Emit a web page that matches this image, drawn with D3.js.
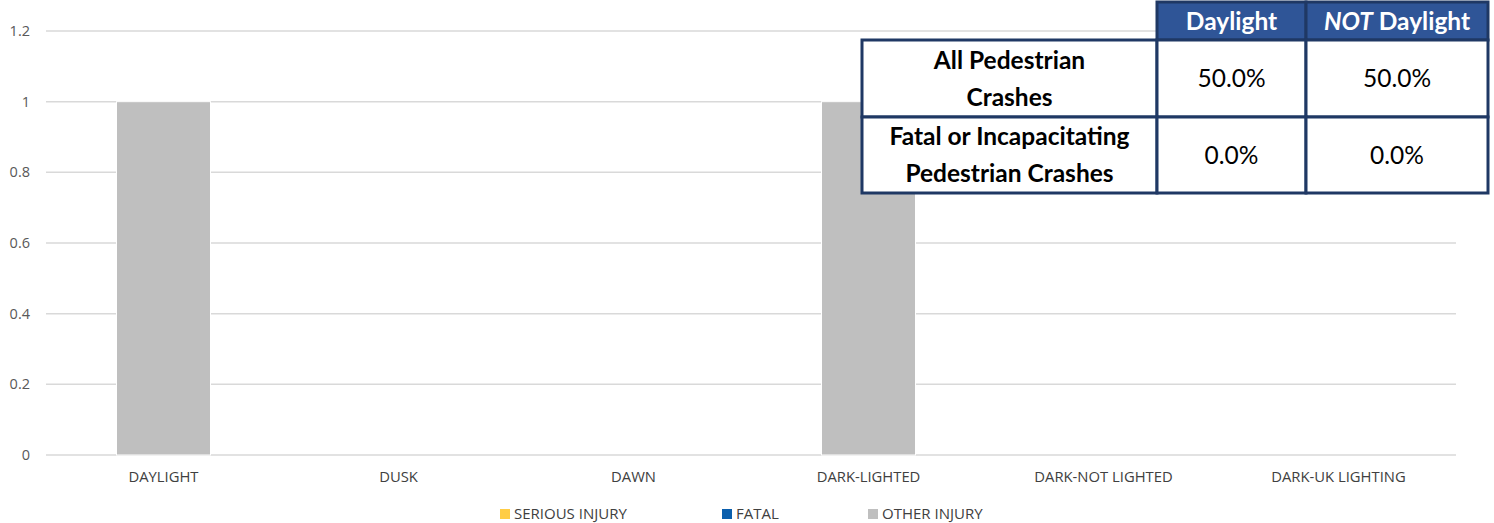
<!DOCTYPE html>
<html><head><meta charset="utf-8">
<script src="https://cdn.jsdelivr.net/npm/d3@7"></script>
<style>body{margin:0;background:#fff}svg{display:block}</style>
</head><body><svg id="c" width="1494" height="523"></svg>
<script>
const categories = ["DAYLIGHT","DUSK","DAWN","DARK-LIGHTED","DARK-NOT LIGHTED","DARK-UK LIGHTING"];
const seriesNames = ["SERIOUS INJURY","FATAL","OTHER INJURY"];
const seriousInjury = [0,0,0,0,0,0];
const fatal = [0,0,0,0,0,0];
const otherInjury = [1,0,0,1,0,0];
const yTicks = [0,0.2,0.4,0.6,0.8,1,1.2];
const colors = ["#FFCD45","#0B5FAD","#BFBFBF"];
const tableHeader = ["Daylight","NOT Daylight"];
const tableRows = [["All Pedestrian","Crashes"],["Fatal or Incapacitating","Pedestrian Crashes"]];
const tableValues = [["50.0%","50.0%"],["0.0%","0.0%"]];

const svg = d3.select("#c");
const x = d3.scaleBand().domain(categories).range([46,1456]).paddingInner(0.6).paddingOuter(0.3);
const y = d3.scaleLinear().domain([0,1.2]).range([455,31]);

svg.append("g").selectAll("line").data(yTicks).join("line")
  .attr("x1",46).attr("x2",1456).attr("y1",d=>y(d)).attr("y2",d=>y(d))
  .attr("stroke","#D9D9D9").attr("stroke-width",1.5);
svg.append("g").selectAll("text").data(yTicks).join("text")
  .attr("x",30).attr("y",d=>y(d)).attr("dy","0.35em").attr("text-anchor","end")
  .attr("font-family","Open Sans").attr("font-size",14.5).attr("fill","#595959")
  .text(d=>d3.format("~g")(d));

const rows = categories.map((c,i)=>({cat:c,"SERIOUS INJURY":seriousInjury[i],"FATAL":fatal[i],"OTHER INJURY":otherInjury[i]}));
const stack = d3.stack().keys(seriesNames)(rows);
svg.append("g").selectAll("g").data(stack).join("g").attr("fill",(d,i)=>colors[i])
  .selectAll("rect").data(d=>d.filter(v=>v[1]-v[0]>0)).join("rect")
  .attr("x",d=>x(d.data.cat)).attr("width",x.bandwidth())
  .attr("y",d=>y(d[1])).attr("height",d=>y(d[0])-y(d[1]))
  .attr("stroke","#fff").attr("stroke-width",1);

svg.append("g").selectAll("text").data(categories).join("text")
  .attr("x",d=>x(d)+x.bandwidth()/2).attr("y",477).attr("dy","0.35em").attr("text-anchor","middle")
  .attr("font-family","Open Sans").attr("font-size",14.8).attr("fill","#404040").text(d=>d);

const legX = [500,722,868];
const lg = svg.append("g").selectAll("g").data(seriesNames).join("g")
  .attr("transform",(d,i)=>`translate(${legX[i]},514)`);
lg.append("rect").attr("x",0).attr("y",-5).attr("width",10).attr("height",10).attr("fill",(d,i)=>colors[i]);
lg.append("text").attr("x",14).attr("dy","0.35em").attr("font-family","Open Sans").attr("font-size",15)
  .attr("fill","#404040").text(d=>d);

const colX = [862,1157,1306,1488];
const rowY = [2,40,117,193];
const navy = "#1F3864", hdr = "#2F5597";
const fs = 24.5;
const t = svg.append("g");
tableHeader.forEach((h,j)=>{
  t.append("rect").attr("x",colX[j+1]).attr("y",rowY[0]).attr("width",colX[j+2]-colX[j+1]).attr("height",rowY[1]-rowY[0])
   .attr("fill",hdr).attr("stroke",navy).attr("stroke-width",3);
});
t.append("text").attr("x",(colX[1]+colX[2])/2).attr("y",(rowY[0]+rowY[1])/2).attr("dy","0.36em")
  .attr("text-anchor","middle").attr("font-family","Lato").attr("font-weight","bold").attr("font-size",fs)
  .attr("fill","#fff").text(tableHeader[0]);
const nt = t.append("text").attr("x",(colX[2]+colX[3])/2).attr("y",(rowY[0]+rowY[1])/2).attr("dy","0.36em")
  .attr("text-anchor","middle").attr("font-family","Lato").attr("font-weight","bold").attr("font-size",fs).attr("fill","#fff");
nt.append("tspan").attr("font-style","italic").text(tableHeader[1].split(" ")[0]);
nt.append("tspan").text(" "+tableHeader[1].split(" ").slice(1).join(" "));
tableRows.forEach((r,i)=>{
  for(let j=0;j<3;j++){
    t.append("rect").attr("x",colX[j]).attr("y",rowY[i+1]).attr("width",colX[j+1]-colX[j]).attr("height",rowY[i+2]-rowY[i+1])
     .attr("fill","#fff").attr("stroke",navy).attr("stroke-width",3);
  }
  const cy=(rowY[i+1]+rowY[i+2])/2;
  const lbl=t.append("text").attr("text-anchor","middle").attr("font-family","Lato").attr("font-weight","bold")
    .attr("font-size",fs).attr("fill","#000");
  r.forEach((line,k)=>lbl.append("tspan").attr("x",(colX[0]+colX[1])/2).attr("y",cy+(k-0.5)*37).attr("dy","0.36em").text(line));
  tableValues[i].forEach((v,j)=>{
    t.append("text").attr("x",(colX[j+1]+colX[j+2])/2).attr("y",cy).attr("dy","0.36em").attr("text-anchor","middle")
     .attr("font-family","Lato").attr("font-size",fs).attr("fill","#000").text(v);
  });
});
</script></body></html>
